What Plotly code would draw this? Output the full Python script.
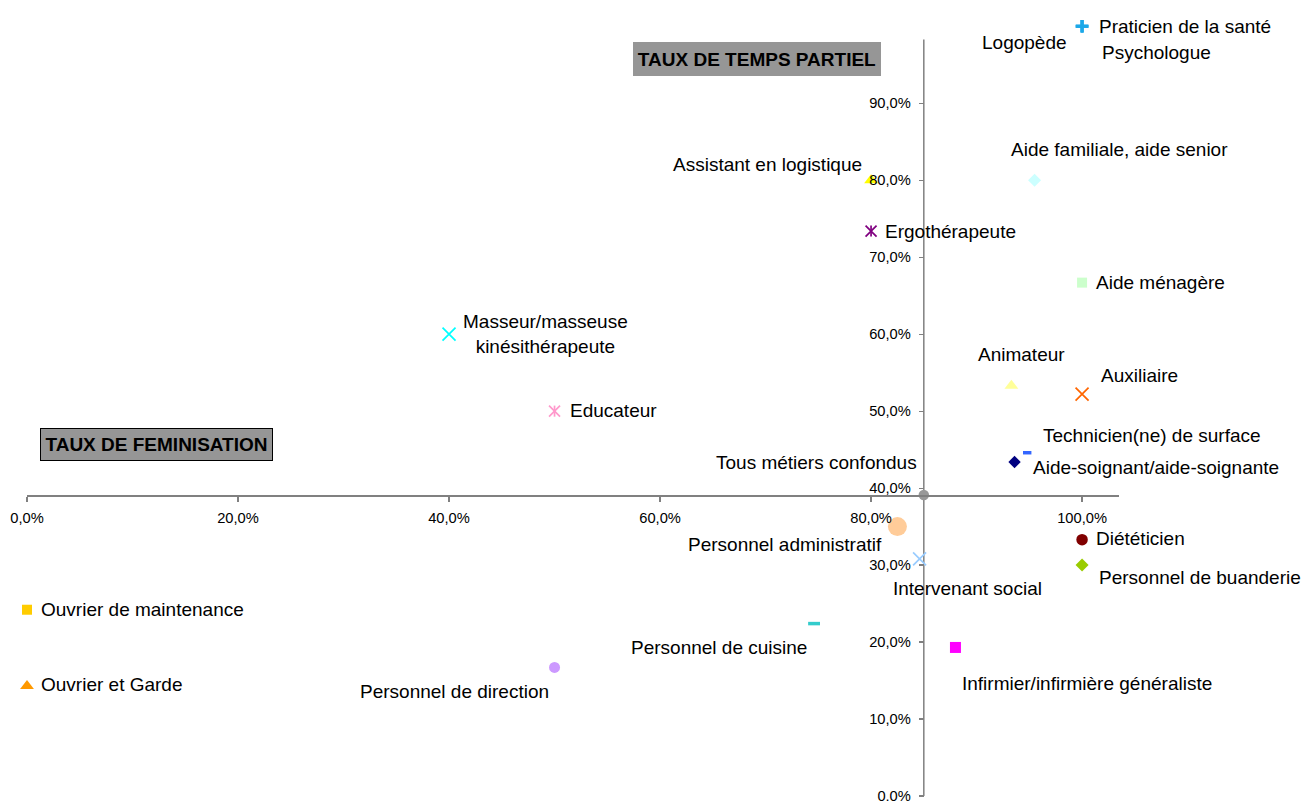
import plotly.graph_objects as go

# ---------------- data ----------------
metiers = [
    "Praticien de la santé", "Logopède", "Psychologue",
    "Aide familiale, aide senior", "Assistant en logistique", "Ergothérapeute",
    "Aide ménagère", "Masseur/masseuse<br>kinésithérapeute", "Educateur",
    "Animateur", "Auxiliaire", "Technicien(ne) de surface",
    "Aide-soignant/aide-soignante", "Tous métiers confondus", "Personnel administratif",
    "Intervenant social", "Diététicien", "Personnel de buanderie",
    "Ouvrier de maintenance", "Personnel de cuisine", "Infirmier/infirmière généraliste",
    "Personnel de direction", "Ouvrier et Garde",
]
# taux de féminisation (%)
feminisation = [100.0, 100.0, 100.0, 95.5, 80.0, 80.0, 100.0, 40.0, 50.0, 93.3, 100.0, 94.8,
                93.6, 85.0, 82.5, 84.6, 100.0, 100.0, 0.0, 74.6, 88.0, 50.0, 0.0]
# taux de temps partiel (%)
temps_partiel = [100.0, 100.0, 100.0, 80.0, 80.0, 73.4, 66.7, 60.0, 50.0, 53.3, 52.2, 44.6,
                 43.4, 39.1, 35.0, 30.8, 33.3, 30.0, 24.2, 22.4, 19.3, 16.7, 14.3]

x_tickvals = [0, 20, 40, 60, 80, 100]
x_ticktext = ["0,0%", "20,0%", "40,0%", "60,0%", "80,0%", "100,0%"]
y_tickvals = [0, 10, 20, 30, 40, 50, 60, 70, 80, 90]
y_ticktext = ["0,0%", "10,0%", "20,0%", "30,0%", "40,0%", "50,0%", "60,0%", "70,0%",
              "80,0%", "90,0%"]
titre_x = "TAUX DE FEMINISATION"
titre_y = "TAUX DE TEMPS PARTIEL"

# ---------------- styles ----------------
colors = ["#1CA8E8", "#1CA8E8", "#1CA8E8", "#CCFFFF", "#FFFF00", "#800080", "#CCFFCC",
          "#00FFFF", "#FF99CC", "#FFFF99", "#FF6600", "#3366FF", "#000080", "#999999",
          "#FFCC99", "#99CCFF", "#800000", "#99CC00", "#FFCC00", "#33CCCC", "#FF00FF",
          "#CC99FF", "#FF9900"]
symbols = ["cross-thin", "cross-thin", "cross-thin", "diamond", "triangle-up", "star6",
           "square", "x-thin", "star6", "triangle-up", "x-thin", "line-ew", "diamond",
           "circle", "circle", "x-thin", "circle", "diamond", "square", "line-ew", "square",
           "circle", "triangle-up"]
sizes = [9, 9, 9, 10, 12, 11, 10, 13, 11, 12, 13, 6, 9.5, 10.5, 19, 13, 11.5, 10, 10,
         8.5, 11, 11, 12]
# label placement: (xanchor, xshift px, yshift px)
label_pos = [("left", 16, 0), ("right", -14, -16), ("left", 19, -26), ("center", 85, 31),
             ("right", -8, 16), ("left", 13, 0), ("left", 13, 0), ("center", 96, 0),
             ("left", 14, 1), ("center", 10, 31), ("left", 18, 19), ("left", 15, 17),
             ("left", 17, -6), ("right", -6, 33), ("right", -14, -18), ("center", 48, -30),
             ("left", 13, 1), ("left", 16, -12), ("left", 13, 0), ("right", -6, -24),
             ("left", 6, -36), ("right", -5, -24), ("left", 13, 1)]

line_widths = {"cross-thin": 3, "x-thin": 1.7, "line-ew": 3.5, "line-ns": 1.7}

FONT = "Liberation Sans, Arial, sans-serif"

fig = go.Figure()


def add_point(i, sym, size):
    if sym in line_widths:
        marker = dict(symbol=sym, size=size, color=colors[i],
                      line=dict(color=colors[i], width=line_widths[sym]))
    else:
        marker = dict(symbol=sym, size=size, color=colors[i], line=dict(width=0))
    fig.add_trace(go.Scatter(x=[feminisation[i]], y=[temps_partiel[i]], mode="markers",
                             marker=marker, cliponaxis=False, showlegend=False,
                             name=metiers[i].replace("<br>", " ")))


order = list(range(len(metiers)))
order = order[1:3] + [0] + order[3:]   # the "+" of the first series on top
for i in order:
    if symbols[i] == "star6":          # Excel "star" marker: x plus a vertical bar
        add_point(i, "x-thin", sizes[i] * 1.0)
        add_point(i, "line-ns", sizes[i] * 0.72)
    else:
        add_point(i, symbols[i], sizes[i])

for i, name in enumerate(metiers):
    xa, dx, dy = label_pos[i]
    fig.add_annotation(x=feminisation[i], y=temps_partiel[i], xref="x", yref="y",
                       text=name, showarrow=False, xanchor=xa, yanchor="middle",
                       xshift=dx, yshift=dy, align="center", borderpad=0,
                       font=dict(family=FONT, size=19, color="#000000"))

# axes cross at "Tous métiers confondus"
idx_all = metiers.index("Tous métiers confondus")
cross_x = feminisation[idx_all]
cross_y = temps_partiel[idx_all]
x_max = 103.5
y_max = 100.3          # plot area top (keeps the 100 % points visible)
y_axis_end = 98.3      # where the vertical axis line stops

# vertical axis line (stops a little below the plot top, as in the reference)
fig.add_shape(type="line", xref="x", yref="y", x0=cross_x, x1=cross_x, y0=0, y1=y_axis_end,
              line=dict(color="#808080", width=1.5), layer="below")

# titles (boxes)
fig.add_annotation(x=69.2, y=95.75, xref="x", yref="y", text="<b>" + titre_y + "</b>",
                   showarrow=False, bgcolor="#969696", borderpad=0, borderwidth=0,
                   width=248, height=34,
                   font=dict(family=FONT, size=19, color="#000000"))
fig.add_annotation(x=12.3, y=45.67, xref="x", yref="y", text="<b>" + titre_x + "</b>",
                   showarrow=False, bgcolor="#969696", bordercolor="#000000",
                   borderwidth=1, borderpad=0, width=231, height=31,
                   font=dict(family=FONT, size=19, color="#000000"))

tick_font = dict(family=FONT, size=14.7, color="#000000")
fig.update_layout(
    width=1303, height=801,
    margin=dict(l=27, r=184, t=24, b=5),
    paper_bgcolor="white", plot_bgcolor="white",
    xaxis=dict(range=[0, x_max], anchor="free", position=cross_y / y_max,
               tickvals=x_tickvals, ticktext=x_ticktext,
               showgrid=False, zeroline=False, showline=True,
               linecolor="#808080", linewidth=1.5, ticks="outside", ticklen=5,
               tickcolor="#808080", tickwidth=1.2, tickfont=tick_font,
               ticklabelstandoff=4, ticklabeloverflow="allow",
               automargin=False, fixedrange=True),
    yaxis=dict(range=[0, y_max], anchor="free", position=cross_x / x_max,
               tickvals=y_tickvals, ticktext=y_ticktext,
               showgrid=False, zeroline=False, showline=False,
               ticks="outside", ticklen=5,
               tickcolor="#808080", tickwidth=1.2, tickfont=tick_font,
               ticklabelstandoff=5, ticklabeloverflow="allow",
               automargin=False, fixedrange=True),
)

fig.write_html("out.html", config={"displayModeBar": False, "staticPlot": True},
               post_script="document.body.style.margin='0';"
                           "document.body.style.overflow='hidden';")
